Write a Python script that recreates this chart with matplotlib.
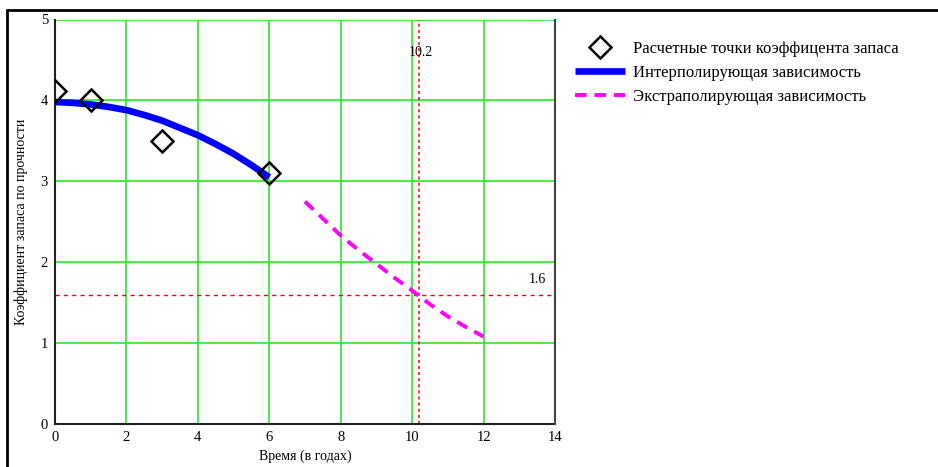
import numpy as np
import matplotlib.pyplot as plt
from matplotlib.patches import Rectangle

plt.rcParams['font.family'] = ['Liberation Serif', 'DejaVu Serif']

# calculated points
pts_x = [0, 1, 3, 6]
pts_y = [4.12, 4.0, 3.5, 3.1]

# interpolating curve
int_x = [0, 0.5, 1, 1.5, 2, 2.5, 3, 3.5, 4, 4.5, 5, 5.5, 6]
int_y = [3.98, 3.97, 3.95, 3.92, 3.88, 3.82, 3.75, 3.66, 3.57, 3.46, 3.34, 3.20, 3.05]

# extrapolating curve
ext_x = [7, 7.5, 8, 8.5, 9, 9.5, 10, 10.5, 11, 11.5, 12]
ext_y = [2.75, 2.54, 2.33, 2.15, 1.98, 1.81, 1.65, 1.48, 1.33, 1.20, 1.08]

t_lim = 10.2
k_lim = 1.6

fig = plt.figure(figsize=(9.38, 4.67), dpi=100)
ax = fig.add_axes([55/938, 43/467, 500/938, 404.5/467])

ax.grid(True, color='#22ee22', lw=1.2, zorder=0.5)
ax.set_axisbelow(True)

ax.axvline(t_lim, color='red', ls=(0, (2, 2)), lw=1.1)
ax.axhline(k_lim, color='red', ls=(0, (3, 3)), lw=1.0)

ax.plot(int_x, int_y, color='blue', lw=4.8, solid_capstyle='butt',
        label='Интерполирующая зависимость', zorder=3)
ax.plot(ext_x, ext_y, color='magenta', lw=2.8, ls=(0, (3, 2)),
        label='Экстраполирующая зависимость', zorder=3)
ax.plot(pts_x, pts_y, 'D', ms=11, mfc='none', mec='black', mew=1.8,
        label='Расчетные точки коэффицента запаса', zorder=4)

ax.text(t_lim + 0.05, 4.59, '10.2', fontsize=10, ha='center', va='center')
ax.text(13.75, 1.7, '1.6', fontsize=10, ha='right', va='bottom')

ax.set_xlim(0, 14)
ax.set_ylim(0, 5)
ax.set_xticks(range(0, 15, 2))
ax.set_yticks(range(0, 6))
ax.tick_params(length=0, labelsize=10.5, pad=5)
ax.set_xlabel('Время (в годах)', fontsize=10, labelpad=4)
ax.set_ylabel('Коэффициент запаса по прочности', fontsize=10, labelpad=9)
for s in ['left', 'bottom']:
    ax.spines[s].set_color('#222222')
    ax.spines[s].set_linewidth(1.5)
ax.spines['right'].set_color('#444444')
ax.spines['right'].set_linewidth(1.5)
ax.spines['right'].set_zorder(5)
ax.spines['top'].set_visible(False)

h, l = ax.get_legend_handles_labels()
order = [2, 0, 1]
ax.legend([h[i] for i in order], [l[i] for i in order], loc='upper left',
          bbox_to_anchor=(1.01, 0.985), frameon=False, fontsize=12,
          handlelength=3.0, labelspacing=0.5, handletextpad=0.5)

# outer frame
fig.patches.append(Rectangle((7/938, -0.01), 1.0, 1 - 10/467 + 0.01,
                             transform=fig.transFigure, fill=False,
                             edgecolor='black', lw=2))

fig.savefig('out.png', dpi=100)
